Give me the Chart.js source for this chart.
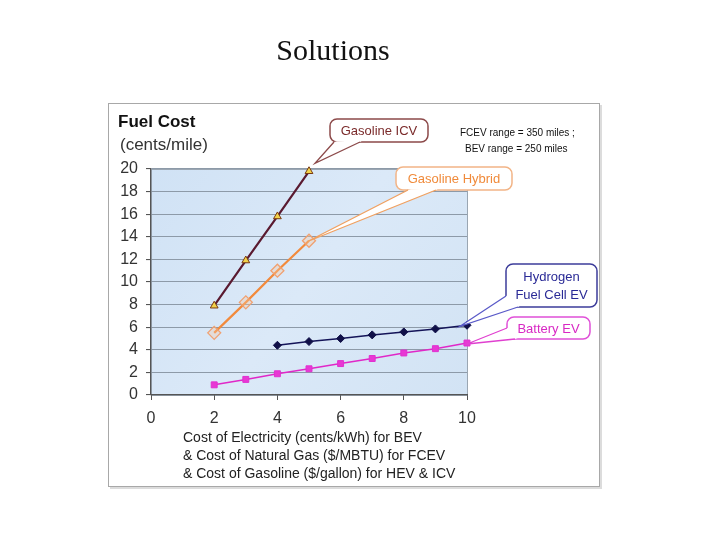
<!DOCTYPE html>
<html>
<head>
<meta charset="utf-8">
<script src="https://cdn.jsdelivr.net/npm/chart.js@4.4.1/dist/chart.umd.min.js"></script>
<style>
  html, body { margin: 0; padding: 0; background: #ffffff; }
  #wrap { width: 728px; height: 546px; position: relative; }
</style>
</head>
<body>
<div id="wrap"><canvas id="c" width="728" height="546"></canvas></div>
<script>
// ---- data ----
const xGasoline = [2, 3, 4, 5];
const gasolineICV = [7.9, 11.9, 15.8, 19.8];
const gasolineHybrid = [5.5, 8.2, 11.0, 13.65];
const xFCEV = [4, 5, 6, 7, 8, 9, 10];
const hydrogenFCEV = [4.4, 4.73, 5.0, 5.32, 5.58, 5.85, 6.17];
const xBEV = [2, 3, 4, 5, 6, 7, 8, 9, 10];
const batteryEV = [0.9, 1.38, 1.88, 2.32, 2.78, 3.23, 3.72, 4.1, 4.6];
const xTicks = [0, 2, 4, 6, 8, 10];
const yTicks = [0, 2, 4, 6, 8, 10, 12, 14, 16, 18, 20];

const pts = (xs, ys) => xs.map((x, i) => ({ x: x, y: ys[i] }));

const SANS = '"Liberation Sans", Arial, sans-serif';

function callout(ctx, box, tip, b1, b2, stroke, lineStroke, text, textColor, font) {
  const { x, y, w, h } = box;
  const r = 7;
  ctx.save();
  ctx.beginPath();
  ctx.moveTo(x + r, y);
  ctx.arcTo(x + w, y, x + w, y + h, r);
  ctx.arcTo(x + w, y + h, x, y + h, r);
  ctx.arcTo(x, y + h, x, y, r);
  ctx.arcTo(x, y, x + w, y, r);
  ctx.closePath();
  ctx.fillStyle = '#ffffff';
  ctx.fill();
  ctx.lineWidth = 1.5;
  ctx.strokeStyle = stroke;
  ctx.stroke();
  const cx = x + w / 2, cy = y + h / 2;
  const inward = (p) => {
    const dx = cx - p[0], dy = cy - p[1];
    const d = Math.hypot(dx, dy) || 1;
    return [p[0] + dx / d * 3, p[1] + dy / d * 3];
  };
  const i1 = inward(b1), i2 = inward(b2);
  ctx.beginPath();
  ctx.moveTo(tip[0], tip[1]);
  ctx.lineTo(b1[0], b1[1]);
  ctx.lineTo(i1[0], i1[1]);
  ctx.lineTo(i2[0], i2[1]);
  ctx.lineTo(b2[0], b2[1]);
  ctx.closePath();
  ctx.fillStyle = '#ffffff';
  ctx.fill();
  ctx.beginPath();
  ctx.moveTo(b1[0], b1[1]);
  ctx.lineTo(tip[0], tip[1]);
  ctx.lineTo(b2[0], b2[1]);
  ctx.lineWidth = 1.3;
  ctx.strokeStyle = lineStroke;
  ctx.stroke();
  ctx.fillStyle = textColor;
  ctx.font = font;
  ctx.textAlign = 'center';
  ctx.textBaseline = 'middle';
  const lines = Array.isArray(text) ? text : [text];
  const lh = 18;
  const start = cy - (lines.length - 1) * lh / 2;
  lines.forEach((t, i) => ctx.fillText(t, cx, start + i * lh + 1));
  ctx.restore();
}

const decorPlugin = {
  id: 'decor',
  beforeDraw(chart) {
    const ctx = chart.ctx;
    const a = chart.chartArea;
    ctx.save();
    ctx.fillStyle = '#ffffff';
    ctx.fillRect(0, 0, chart.width, chart.height);
    // frame
    ctx.fillStyle = '#dcdcdc';
    ctx.fillRect(110, 105, 492, 384);
    ctx.fillStyle = '#ffffff';
    ctx.fillRect(108.5, 103.5, 491, 383);
    ctx.strokeStyle = '#a8a8a8';
    ctx.lineWidth = 1;
    ctx.strokeRect(108.5, 103.5, 491, 383);
    // plot background
    const g = ctx.createLinearGradient(a.left, a.top, a.right, a.bottom);
    g.addColorStop(0, '#d0e2f5');
    g.addColorStop(0.5, '#dbe9f8');
    g.addColorStop(1, '#d2e3f4');
    ctx.fillStyle = g;
    ctx.fillRect(a.left, a.top, a.right - a.left, a.bottom - a.top);
    ctx.strokeStyle = '#9aa6b2';
    ctx.strokeRect(a.left + 0.5, a.top + 0.5, a.right - a.left, a.bottom - a.top);
    // title
    ctx.fillStyle = '#111111';
    ctx.font = '30px "Liberation Serif", "DejaVu Serif", serif';
    ctx.textAlign = 'center';
    ctx.textBaseline = 'alphabetic';
    ctx.fillText('Solutions', 333, 60);
    // y title
    ctx.textAlign = 'left';
    ctx.font = 'bold 17px ' + SANS;
    ctx.fillStyle = '#111111';
    ctx.fillText('Fuel Cost', 118, 127);
    ctx.font = '17px ' + SANS;
    ctx.fillStyle = '#333333';
    ctx.fillText('(cents/mile)', 120, 150);
    // x title
    ctx.font = '14px ' + SANS;
    ctx.fillStyle = '#222222';
    ctx.fillText('Cost of Electricity (cents/kWh) for BEV', 183, 442);
    ctx.fillText('& Cost of Natural Gas ($/MBTU) for FCEV', 183, 460);
    ctx.fillText('& Cost of Gasoline ($/gallon) for HEV & ICV', 183, 478);
    // range note
    ctx.font = '10px ' + SANS;
    ctx.fillStyle = '#111111';
    ctx.fillText('FCEV range = 350 miles ;', 460, 136);
    ctx.fillText('BEV range = 250 miles', 465, 152);
    ctx.restore();
  },
  afterDatasetsDraw(chart) {
    const ctx = chart.ctx;
    const xs = chart.scales.x, ys = chart.scales.y;
    const P = (x, y) => [xs.getPixelForValue(x), ys.getPixelForValue(y)];
    const icvEnd = P(xGasoline[xGasoline.length - 1], gasolineICV[gasolineICV.length - 1]);
    const hybEnd = P(xGasoline[xGasoline.length - 1], gasolineHybrid[gasolineHybrid.length - 1]);
    const fcEnd = P(xFCEV[xFCEV.length - 1], hydrogenFCEV[hydrogenFCEV.length - 1]);
    const bevEnd = P(xBEV[xBEV.length - 1], batteryEV[batteryEV.length - 1]);
    const f13 = '13px ' + SANS;
    callout(ctx, { x: 330, y: 119, w: 98, h: 23 }, [icvEnd[0] + 6, icvEnd[1] - 8],
      [334, 142], [360, 142], '#8c4a4a', '#8c4a4a', 'Gasoline ICV', '#7a2a2a', f13);
    callout(ctx, { x: 396, y: 167, w: 116, h: 23 }, [hybEnd[0] - 2, hybEnd[1] + 1],
      [408, 190], [436, 190], '#f2b486', '#f0a060', 'Gasoline Hybrid', '#f08a3a', f13);
    callout(ctx, { x: 506, y: 264, w: 91, h: 43 }, [fcEnd[0] - 7, fcEnd[1] + 1],
      [506, 296], [518, 307], '#3c3c9a', '#5a5ac8', ['Hydrogen', 'Fuel Cell EV'], '#2a2a96', f13);
    callout(ctx, { x: 507, y: 317, w: 83, h: 22 }, [bevEnd[0], bevEnd[1] + 1],
      [507, 328], [515, 339], '#e050d8', '#e040d0', 'Battery EV', '#d828c4', f13);
  }
};

new Chart(document.getElementById('c'), {
  type: 'scatter',
  data: {
    datasets: [
      {
        label: 'Gasoline ICV',
        data: pts(xGasoline, gasolineICV),
        showLine: true,
        clip: false,
        borderColor: '#5a1a30',
        borderWidth: 2.2,
        pointStyle: 'triangle',
        pointRadius: 4.5,
        pointBackgroundColor: '#f2d24a',
        pointBorderColor: '#7a3a10',
        pointBorderWidth: 1
      },
      {
        label: 'Gasoline Hybrid',
        data: pts(xGasoline, gasolineHybrid),
        showLine: true,
        clip: false,
        borderColor: '#f28a3c',
        borderWidth: 2.2,
        pointStyle: 'rectRot',
        pointRadius: 6.5,
        pointBackgroundColor: 'rgba(250,200,160,0.35)',
        pointBorderColor: '#f0a070',
        pointBorderWidth: 1.3
      },
      {
        label: 'Hydrogen Fuel Cell EV',
        data: pts(xFCEV, hydrogenFCEV),
        showLine: true,
        clip: false,
        borderColor: '#141458',
        borderWidth: 1.5,
        pointStyle: 'rectRot',
        pointRadius: 4,
        pointBackgroundColor: '#101048',
        pointBorderColor: '#101048',
        pointBorderWidth: 1
      },
      {
        label: 'Battery EV',
        data: pts(xBEV, batteryEV),
        showLine: true,
        clip: false,
        borderColor: '#e028c8',
        borderWidth: 1.5,
        pointStyle: 'rect',
        pointRadius: 4.2,
        pointBackgroundColor: '#e838d4',
        pointBorderColor: '#e030d0',
        pointBorderWidth: 1
      }
    ]
  },
  options: {
    responsive: false,
    animation: false,
    devicePixelRatio: 1,
    layout: { padding: { left: 111, right: 261, top: 169, bottom: 111 } },
    plugins: { legend: { display: false }, tooltip: { enabled: false }, title: { display: false } },
    scales: {
      x: {
        type: 'linear',
        min: 0, max: 10,
        afterFit(s) { s.height = 40; },
        afterBuildTicks(s) { s.ticks = xTicks.map(v => ({ value: v })); },
        grid: { drawOnChartArea: false, drawTicks: true, tickLength: 5, color: '#555555' },
        border: { color: '#555555', width: 1.2 },
        ticks: { color: '#333333', font: { family: SANS, size: 16 }, padding: 9, maxRotation: 0 }
      },
      y: {
        type: 'linear',
        min: 0, max: 20,
        afterFit(s) { s.width = 40; },
        afterBuildTicks(s) { s.ticks = yTicks.map(v => ({ value: v })); },
        grid: { color: '#8d9aa8', lineWidth: 1.1, drawTicks: true, tickLength: 5, tickColor: '#555555' },
        border: { color: '#555555', width: 1.2 },
        ticks: { color: '#333333', font: { family: SANS, size: 16 }, padding: 8 }
      }
    }
  },
  plugins: [decorPlugin]
});
</script>
</body>
</html>
